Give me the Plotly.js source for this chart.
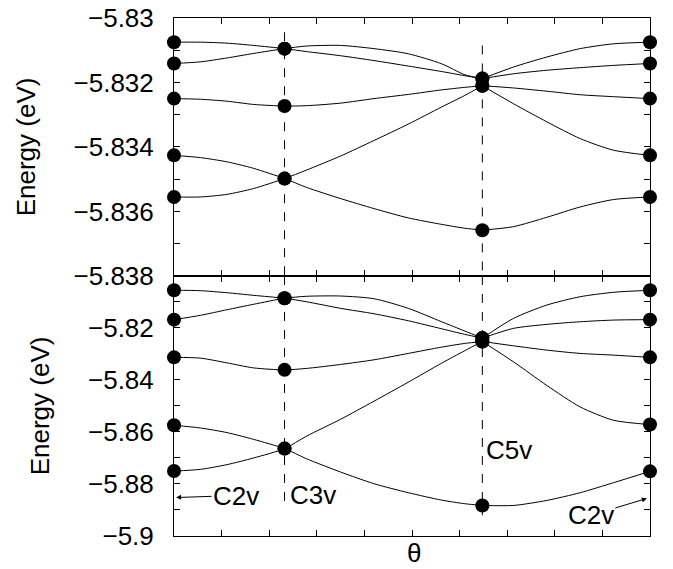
<!DOCTYPE html>
<html>
<head>
<meta charset="utf-8">
<script src="https://cdn.plot.ly/plotly-3.0.1.min.js"></script>
<style>html,body{margin:0;padding:0;background:#fff;}#chart{width:673px;height:569px;}</style>
</head>
<body>
<div id="chart"></div>
<script>
// θ grid (degrees, C2v -> C3v -> C5v -> C2v)
const theta = [0, 5, 10, 15, 20.9, 25, 31.5, 37.8, 44.3, 50.6, 55, 58.3, 64.2, 70.5, 76.8, 83.1, 90];
const symIndex = [0, 4, 11, 16];           // C2v, C3v, C5v, C2v
const c5vIndex = 11;

// Top panel energies (eV)
const top1 = [-5.83141, -5.83136, -5.83124, -5.83110, -5.83095, -5.83087, -5.83085, -5.83095, -5.83111, -5.83142, -5.83176, -5.83188, -5.83152, -5.83121, -5.83095, -5.83080, -5.83075];
const top2 = [-5.83075, -5.83075, -5.83078, -5.83085, -5.83095, -5.83104, -5.83117, -5.83132, -5.83149, -5.83166, -5.83179, -5.83188, -5.83173, -5.83162, -5.83154, -5.83147, -5.83141];
const top3 = [-5.83250, -5.83252, -5.83258, -5.83268, -5.83273, -5.83272, -5.83264, -5.83250, -5.83237, -5.83223, -5.83215, -5.83210, -5.83217, -5.83227, -5.83238, -5.83244, -5.83250];
const top4 = [-5.83555, -5.83555, -5.83547, -5.83529, -5.83498, -5.83472, -5.83428, -5.83380, -5.83329, -5.83276, -5.83240, -5.83210, -5.83266, -5.83322, -5.83374, -5.83410, -5.83426];
const top5 = [-5.83426, -5.83433, -5.83446, -5.83466, -5.83498, -5.83525, -5.83560, -5.83591, -5.83620, -5.83640, -5.83652, -5.83658, -5.83647, -5.83618, -5.83586, -5.83563, -5.83555];

// Bottom panel energies (eV)
const bot1 = [-5.8168, -5.81514, -5.81299, -5.81091, -5.80859, -5.80782, -5.80771, -5.80875, -5.81245, -5.81761, -5.82119, -5.8239, -5.81630, -5.81118, -5.80798, -5.80628, -5.8055];
const bot2 = [-5.8055, -5.80566, -5.80644, -5.80744, -5.80859, -5.80990, -5.81245, -5.81453, -5.81723, -5.82031, -5.82247, -5.8239, -5.82015, -5.81861, -5.81761, -5.81696, -5.8168];
const bot3 = [-5.8313, -5.83160, -5.83341, -5.83534, -5.83611, -5.83557, -5.83403, -5.83225, -5.82979, -5.82736, -5.82593, -5.8252, -5.82686, -5.82852, -5.82979, -5.83044, -5.8313];
const bot4 = [-5.87503, -5.87437, -5.87256, -5.87002, -5.8664, -5.86166, -5.85511, -5.84817, -5.84085, -5.83353, -5.82871, -5.8252, -5.83303, -5.84212, -5.85037, -5.85549, -5.85715];
const bot5 = [-5.85742, -5.85846, -5.86023, -5.86281, -5.8664, -5.87025, -5.87541, -5.87988, -5.88335, -5.88620, -5.88759, -5.88825, -5.88825, -5.88632, -5.88335, -5.87950, -5.87514];

// Tick values and labels
const topTickVals = [-5.838, -5.836, -5.834, -5.832, -5.83];
const topTickText = ['\u22125.838', '\u22125.836', '\u22125.834', '\u22125.832', '\u22125.83'];
const botTickVals = [-5.9, -5.88, -5.86, -5.84, -5.82];
const botTickText = ['\u22125.9', '\u22125.88', '\u22125.86', '\u22125.84', '\u22125.82'];
const symLabels = ['C2v', 'C3v', 'C5v', 'C2v'];
const xTitle = 'θ';
const yTitle = 'Energy (eV)';

const FONT = 'Liberation Sans, Arial, Helvetica, sans-serif';
const traces = [];
const lineStyle = {color: '#000', width: 1, shape: 'spline', smoothing: 0.7};
function addPanel(curves, xa, ya) {
  curves.forEach(c => {
    traces.push({x: theta.slice(0, c5vIndex + 1), y: c.slice(0, c5vIndex + 1), xaxis: xa, yaxis: ya,
      mode: 'lines', line: lineStyle, hoverinfo: 'skip', showlegend: false});
    traces.push({x: theta.slice(c5vIndex), y: c.slice(c5vIndex), xaxis: xa, yaxis: ya,
      mode: 'lines', line: lineStyle, hoverinfo: 'skip', showlegend: false});
  });
  const mx = [], my = [];
  curves.forEach(c => symIndex.forEach(i => { mx.push(theta[i]); my.push(c[i]); }));
  traces.push({x: mx, y: my, xaxis: xa, yaxis: ya, mode: 'markers', cliponaxis: false,
    marker: {color: '#000', size: 14}, showlegend: false});
}
addPanel([top1, top2, top3, top4, top5], 'x2', 'y');
addPanel([bot1, bot2, bot3, bot4, bot5], 'x', 'y2');

const xCommon = {range: [0, 90], tickmode: 'linear', tick0: 0, dtick: 9, ticks: 'inside', ticklen: 6,
  tickcolor: '#000', showticklabels: false, showline: true, linecolor: '#000', linewidth: 1,
  mirror: 'ticks', showgrid: false, zeroline: false};
const yCommon = {ticks: 'inside', ticklen: 6, tickcolor: '#000', tickmode: 'array', showline: true,
  linecolor: '#000', linewidth: 1, mirror: 'ticks', showgrid: false, zeroline: false,
  tickfont: {size: 26, family: FONT, color: '#000'}, ticklabelstandoff: 14};
const annFont = {size: 26, family: FONT, color: '#000'};

const layout = {
  width: 673, height: 569,
  margin: {l: 174, r: 23, t: 18, b: 33},
  paper_bgcolor: '#fff', plot_bgcolor: '#fff',
  font: {family: FONT, size: 26, color: '#000'},
  showlegend: false,
  xaxis: Object.assign({}, xCommon, {anchor: 'y2', domain: [0, 1]}),
  xaxis2: Object.assign({}, xCommon, {anchor: 'y', domain: [0, 1], matches: 'x'}),
  yaxis: Object.assign({}, yCommon, {anchor: 'x2', domain: [0.502, 1], range: [-5.838, -5.83],
    tickvals: topTickVals, ticktext: topTickText,
    minor: {tickmode: 'linear', tick0: -5.838, dtick: 0.001, ticks: 'inside', ticklen: 6, tickcolor: '#000'},
    title: {text: yTitle, font: {size: 26, family: FONT}, standoff: 30}}),
  yaxis2: Object.assign({}, yCommon, {anchor: 'x', domain: [0, 0.502], range: [-5.9, -5.8],
    tickvals: botTickVals, ticktext: botTickText,
    minor: {tickmode: 'linear', tick0: -5.9, dtick: 0.01, ticks: 'inside', ticklen: 6, tickcolor: '#000'},
    title: {text: yTitle, font: {size: 26, family: FONT}, standoff: 30}}),
  shapes: [
    {type: 'line', xref: 'x2', yref: 'y', x0: theta[4], x1: theta[4], y0: -5.83044, y1: -5.838, line: {color: '#000', width: 1, dash: 'dash'}},
    {type: 'line', xref: 'x2', yref: 'y', x0: theta[11], x1: theta[11], y0: -5.83085, y1: -5.838, line: {color: '#000', width: 1, dash: 'dash'}},
    {type: 'line', xref: 'x', yref: 'y2', x0: theta[4], x1: theta[4], y0: -5.8, y1: -5.887, line: {color: '#000', width: 1, dash: 'dash'}},
    {type: 'line', xref: 'x', yref: 'y2', x0: theta[11], x1: theta[11], y0: -5.8, y1: -5.892, line: {color: '#000', width: 1, dash: 'dash'}}
  ],
  annotations: [
    {xref: 'paper', yref: 'paper', x: 0.505, y: 0, yshift: -33, xanchor: 'center', yanchor: 'bottom',
      borderpad: 0, text: xTitle, showarrow: false, font: annFont},
    {xref: 'x', yref: 'y2', x: 0.4, y: -5.8852, ax: 60, ay: -2, text: symLabels[0], showarrow: true,
      arrowhead: 2, arrowsize: 1, arrowwidth: 1, arrowcolor: '#000', font: annFont},
    {xref: 'x', yref: 'y2', x: 26.3, y: -5.8844, text: symLabels[1], showarrow: false, font: annFont},
    {xref: 'x', yref: 'y2', x: 63.3, y: -5.8671, text: symLabels[2], showarrow: false, font: annFont},
    {xref: 'x', yref: 'y2', x: 89.4, y: -5.88555, ax: -56, ay: 17, text: symLabels[3], showarrow: true,
      arrowhead: 2, arrowsize: 1, arrowwidth: 1, arrowcolor: '#000', font: annFont}
  ]
};

Plotly.newPlot('chart', traces, layout, {displayModeBar: false, staticPlot: true});
</script>
</body>
</html>
